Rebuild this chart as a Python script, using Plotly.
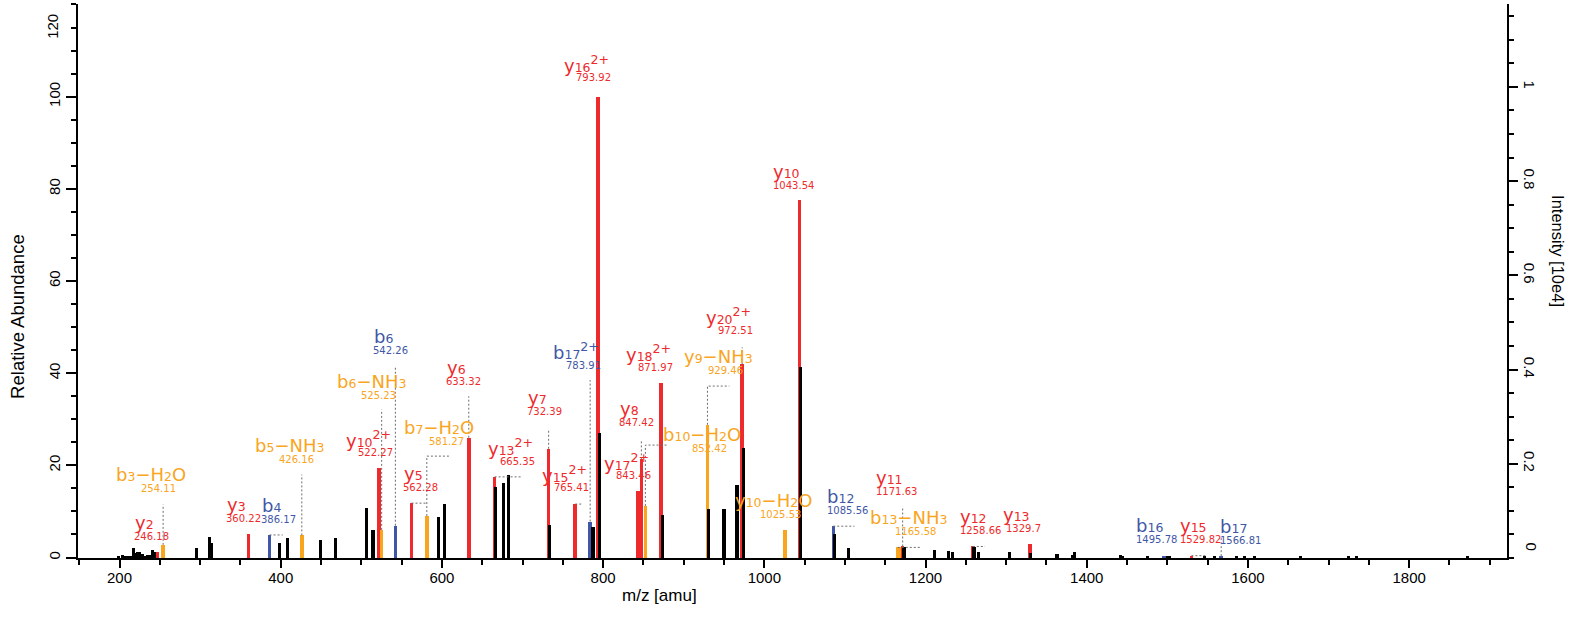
import plotly.graph_objects as go

# ---------------- data ----------------
ion_names = ["y2", "b3-H2O", "y3", "b4", "b5-NH3", "y10^2+", "b6-NH3", "b6", "y5", "b7-H2O",
             "y6", "y13^2+", "y7", "y15^2+", "b17^2+", "y16^2+", "y17^2+", "y8", "b10-H2O", "y18^2+",
             "y9-NH3", "y20^2+", "y10-H2O", "y10", "b12", "b13-NH3", "", "y11", "y12", "y13",
             "b16", "y15", "b17"]
ion_mz = [246.18, 254.11, 360.22, 386.17, 426.16, 522.27, 525.23, 542.26, 562.28, 581.27,
          633.32, 665.35, 732.39, 765.41, 783.91, 793.92, 843.46, 847.42, 852.42, 871.97,
          929.46, 972.51, 1025.53, 1043.54, 1085.56, 1165.58, 1169.0, 1171.63, 1258.66, 1329.7,
          1495.78, 1529.82, 1566.81]
ion_abund = [1.1, 2.75, 5.2, 4.9, 4.8, 19.4, 6.0, 6.9, 11.8, 9.0,
             26.0, 17.5, 23.6, 11.6, 7.8, 100, 14.5, 21.3, 11.2, 37.8,
             28.8, 41.9, 5.9, 77.5, 6.8, 2.2, 2.2, 2.4, 2.4, 2.9,
             0.3, 0.4, 0.3]
ion_series = ["y", "loss", "y", "b", "loss", "y", "loss", "b", "y", "loss",
              "y", "y", "y", "y", "b", "y", "y", "y", "loss", "y",
              "loss", "y", "loss", "y", "b", "loss", "loss", "y", "y", "y",
              "b", "y", "b"]

other_mz = [199, 204, 207, 210, 213, 217, 220, 222, 225, 228,
            231, 235, 238, 241, 243, 295.9, 311.6, 314.5, 398.5, 408.4,
            449.5, 467.7, 506.2, 514.5, 596, 603.5, 666.8, 676.4, 682.6, 733.9,
            787.4, 795.4, 873.5, 931, 949.9, 966.0, 974.0, 1045.0, 1087, 1104,
            1173.2, 1211, 1228.4, 1233, 1260, 1266, 1304, 1330.5, 1363, 1383,
            1385, 1442, 1444, 1475, 1500, 1503, 1546.4, 1558.8, 1585.7, 1596,
            1608.5, 1665.2, 1724.5, 1734.8, 1872.2]
other_abund = [0.3, 0.5, 0.4, 0.4, 0.4, 2.1, 0.9, 1.1, 1.3, 0.7,
               0.3, 0.5, 0.6, 1.7, 1.2, 2.1, 4.5, 3.2, 3.1, 4.2,
               3.9, 4.2, 10.7, 6.0, 8.9, 11.7, 15.4, 16.2, 17.9, 7.1,
               6.7, 27.1, 9.3, 10.5, 10.5, 15.8, 23.8, 41.4, 5.2, 2.1,
               2.2, 1.7, 1.4, 1.1, 2.3, 1.1, 1.1, 0.9, 0.7, 0.5,
               1.3, 0.6, 0.3, 0.3, 0.3, 0.3, 0.3, 0.3, 0.3, 0.3,
               0.3, 0.3, 0.3, 0.3, 0.3]

x_ticks = [200, 400, 600, 800, 1000, 1200, 1400, 1600, 1800]
left_ticks = [0, 20, 40, 60, 80, 100]          # "120" label is drawn apart (shifted inward)
right_ticks = [0.2, 0.4, 0.6, 0.8, 1.0]         # "0" label is drawn apart (shifted inward)
right_ticklabels = ["0.2", "0.4", "0.6", "0.8", "1"]

# ---------------- label layout (positions of the peak annotations) ----------------
lab_x = [239.9, 248.1, 353.6, 397.0, 419.8, 517.0, 521.1, 536.5, 572.8, 605.1,
         626.5, 693.5, 726.7, 761.0, 775.4, 787.8, 837.4, 841.7, 931.7, 864.4,
         951.2, 964.5, 1019.5, 1036.8, 1103.2, 1187.0, None, 1164.2, 1268.5, 1321.3,
         1486.8, 1540.6, 1591.1]
lab_y = [4.5, 14.9, 8.5, 8.2, 21.3, 22.7, 35.1, 45.0, 15.1, 25.2,
         38.3, 20.9, 31.6, 15.1, 41.7, 104.1, 17.8, 29.2, 23.6, 41.3,
         40.6, 49.3, 9.3, 80.8, 10.3, 5.7, None, 14.4, 5.9, 6.2,
         3.9, 3.9, 3.8]
# connector: vertical from peak top up to elbow_y, then horizontal to end_x
elbow_y = [None, 11.5, None, None, 18.0, None, 32.1, 41.2, None, 22.0,
           35.0, None, 27.8, None, 38.5, None, None, 25.2, 24.4, None,
           37.2, 45.6, None, None, None, None, None, 11.1, None, None,
           None, None, 4.6]
end_x = [None, None, None, 402.5, None, None, None, None, 581.27, 610.0,
         None, 699.0, None, 774.7, None, None, None, None, 880.9, None,
         956.6, None, None, None, 1111.8, 1193.0, None, None, 1273.8, None,
         None, 1548.9, None]

COLORS = {"y": "#EE2A2C", "b": "#3F57A6", "loss": "#F9A51E"}
LABEL_FONT = "DejaVu Sans"
AXIS_FONT = "Liberation Sans, Arial, sans-serif"


def fmt_name(name):
    main, _, sup = name.partition("^")
    out = ""
    for ch in main:
        if ch.isdigit():
            out += '<span style="font-size:12.5px">' + ch + "</span>"
        elif ch == "-":
            out += "\u2212"
        else:
            out += ch
    if sup:
        out += "<sup>" + sup + "</sup>"
    return out


fig = go.Figure()

# connectors (dotted grey)
cx, cy = [], []
for mz, h, ey, ex in zip(ion_mz, ion_abund, elbow_y, end_x):
    if ey is None and ex is None:
        continue
    yy = ey if ey is not None else h
    pts_x = [mz, mz]
    pts_y = [h, yy]
    if ex is not None:
        pts_x.append(ex)
        pts_y.append(yy)
    cx += pts_x + [None]
    cy += pts_y + [None]
fig.add_trace(go.Scatter(x=cx, y=cy, mode="lines",
                         line=dict(color="#6E6E6E", width=1, dash="2px,2px"),
                         hoverinfo="skip", showlegend=False))

# annotated (coloured) peaks
fig.add_trace(go.Bar(x=ion_mz, y=ion_abund, width=4.4,
                     marker=dict(color=[COLORS[s] for s in ion_series], line=dict(width=0)),
                     showlegend=False))
# other (black) peaks
fig.add_trace(go.Bar(x=other_mz, y=other_abund, width=4.0,
                     marker=dict(color="#000000", line=dict(width=0)),
                     showlegend=False))
# invisible trace to activate right axis
fig.add_trace(go.Scatter(x=[x_ticks[0]], y=[right_ticks[0]], yaxis="y2", mode="markers",
                         marker=dict(opacity=0), hoverinfo="skip", showlegend=False))

annotations = []
for name, mz, s, lx, ly in zip(ion_names, ion_mz, ion_series, lab_x, lab_y):
    if not name or lx is None:
        continue
    col = COLORS[s]
    annotations.append(dict(x=lx, y=ly, xref="x", yref="y", text=str(mz), showarrow=False,
                            xanchor="center", yanchor="middle",
                            font=dict(family=LABEL_FONT, size=10, color=col)))
    annotations.append(dict(x=lx, y=ly, xref="x", yref="y", text=fmt_name(name), showarrow=False,
                            xanchor="center", yanchor="middle", xshift=-7, yshift=14,
                            font=dict(family=LABEL_FONT, size=18, color=col)))

# axis text that sits off its tick / titles
annotations.append(dict(x=-0.0184, y=115.3, xref="paper", yref="y", text="120", textangle=-90,
                        showarrow=False, xanchor="center", yanchor="middle",
                        font=dict(family=AXIS_FONT, size=15, color="black")))
annotations.append(dict(x=1.0165, y=0.0217, xref="paper", yref="paper", text="0", textangle=90,
                        showarrow=False, xanchor="center", yanchor="middle",
                        font=dict(family=AXIS_FONT, size=15, color="black")))
annotations.append(dict(x=-0.042, y=0.437, xref="paper", yref="paper", text="Relative Abundance",
                        textangle=-90, showarrow=False, xanchor="center", yanchor="middle",
                        font=dict(family=AXIS_FONT, size=18.5, color="black")))
annotations.append(dict(x=1.0357, y=0.554, xref="paper", yref="paper", text="Intensity [10e4]",
                        textangle=90, showarrow=False, xanchor="center", yanchor="middle",
                        font=dict(family=AXIS_FONT, size=16.5, color="black")))
annotations.append(dict(x=0.407, y=-0.068, xref="paper", yref="paper", text="m/z [amu]",
                        showarrow=False, xanchor="center", yanchor="middle",
                        font=dict(family=AXIS_FONT, size=17, color="black")))

fig.update_layout(
    width=1575, height=619,
    margin=dict(l=78, r=68, t=4, b=61, autoexpand=False),
    paper_bgcolor="white", plot_bgcolor="white",
    barmode="overlay", bargap=0,
    showlegend=False,
    font=dict(family=AXIS_FONT, size=15, color="black"),
    annotations=annotations,
    xaxis=dict(range=[148.5, 1921.4], showgrid=False, zeroline=False, automargin=False,
               showline=True, linecolor="black", linewidth=1.5,
               ticks="outside", ticklen=8, tickwidth=1.5, tickcolor="black",
               tickmode="array", tickvals=x_ticks, ticktext=[str(v) for v in x_ticks],
               ticklabelstandoff=-3,
               tickfont=dict(family=AXIS_FONT, size=15, color="black"),
               minor=dict(dtick=50, tick0=0, ticks="outside", ticklen=5, tickwidth=1.5,
                          tickcolor="black", showgrid=False)),
    yaxis=dict(range=[-0.1, 120.1], showgrid=False, zeroline=False, automargin=False,
               showline=True, linecolor="black", linewidth=1.5,
               ticks="outside", ticklen=10, tickwidth=1.5, tickcolor="black",
               tickmode="array", tickvals=left_ticks, ticktext=[str(v) for v in left_ticks],
               tickangle=-90,
               tickfont=dict(family=AXIS_FONT, size=15, color="black"),
               minor=dict(dtick=5, tick0=0, ticks="outside", ticklen=5, tickwidth=1.5,
                          tickcolor="black", showgrid=False)),
    yaxis2=dict(overlaying="y", side="right", range=[0, 1.176], showgrid=False, zeroline=False,
                automargin=False,
                showline=True, linecolor="black", linewidth=1.5,
                ticks="outside", ticklen=9, tickwidth=1.5, tickcolor="black",
                tickmode="array", tickvals=right_ticks, ticktext=right_ticklabels,
                tickangle=90,
                tickfont=dict(family=AXIS_FONT, size=15, color="black"),
                minor=dict(dtick=0.05, tick0=0, ticks="outside", ticklen=5, tickwidth=1.5,
                           tickcolor="black", showgrid=False)),
)

fig.write_html("out.html",
               config={"displayModeBar": False},
               post_script="document.body.style.margin='0';document.body.style.overflow='hidden';")
